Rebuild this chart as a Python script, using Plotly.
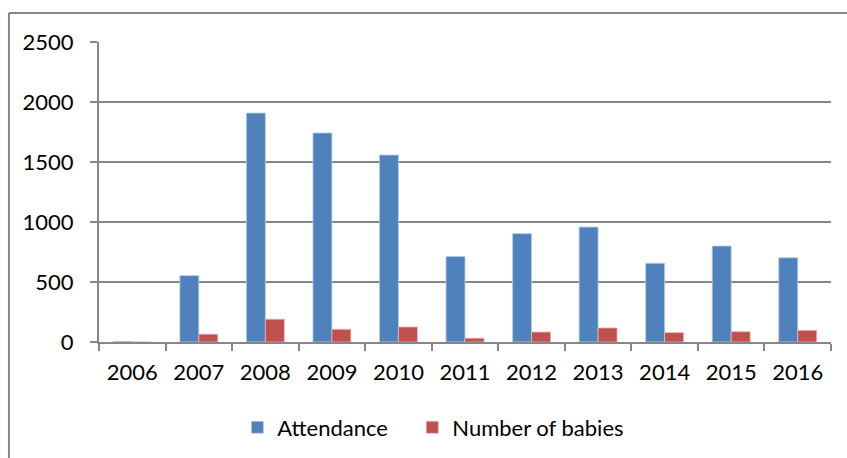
import plotly.graph_objects as go

years = ["2006", "2007", "2008", "2009", "2010", "2011", "2012", "2013", "2014", "2015", "2016"]
attendance = [5, 553, 1908, 1742, 1558, 712, 903, 958, 656, 800, 702]
babies = [0, 65, 190, 106, 125, 32, 83, 117, 78, 86, 97]

FONT = "Lato"
GRID = "#868686"

fig = go.Figure()
fig.add_trace(go.Bar(
    x=years, y=attendance, name="Attendance", legend="legend",
    marker=dict(color="#4F81BD", line=dict(color="#B9CDE5", width=0.8)),
))
fig.add_trace(go.Bar(
    x=years, y=babies, name="Number of babies", legend="legend2",
    marker=dict(color="#C0504D", line=dict(color="#E6B9B8", width=0.8)),
))

legend_common = dict(
    orientation="h", xanchor="left", y=-0.215, yanchor="top",
    font=dict(family=FONT, size=22), itemwidth=30,
)

fig.update_layout(
    width=847, height=458,
    margin=dict(l=99, r=16, t=42, b=116, autoexpand=False),
    paper_bgcolor="white", plot_bgcolor="white",
    barmode="group", bargap=0.43, bargroupgap=0.0,
    font=dict(family=FONT, size=22, color="#000000"),
    showlegend=True,
    legend=dict(x=0.189, **legend_common),
    legend2=dict(x=0.428, **legend_common),
    xaxis=dict(
        type="category", showline=True, linecolor=GRID, linewidth=2,
        ticks="outside", tickson="boundaries", ticklen=7, tickcolor=GRID, tickwidth=2,
        showgrid=False, tickfont=dict(family=FONT, size=22), ticklabelstandoff=10,
    ),
    yaxis=dict(
        range=[0, 2500], dtick=500, showline=True, linecolor=GRID, linewidth=2,
        ticks="outside", ticklen=7, tickcolor=GRID, tickwidth=2,
        showgrid=True, gridcolor=GRID, gridwidth=2, zeroline=False,
        tickfont=dict(family=FONT, size=22), ticklabelstandoff=12,
    ),
)

# Outer chart-area frame (top and left edges visible)
fig.add_shape(type="line", xref="paper", yref="paper",
              x0=-0.123, x1=1.1, y0=1.0967, y1=1.0967,
              line=dict(color=GRID, width=2))
fig.add_shape(type="line", xref="paper", yref="paper",
              x0=-0.123, x1=-0.123, y0=1.0967, y1=-0.5,
              line=dict(color=GRID, width=2))

fig.write_html("out.html")
